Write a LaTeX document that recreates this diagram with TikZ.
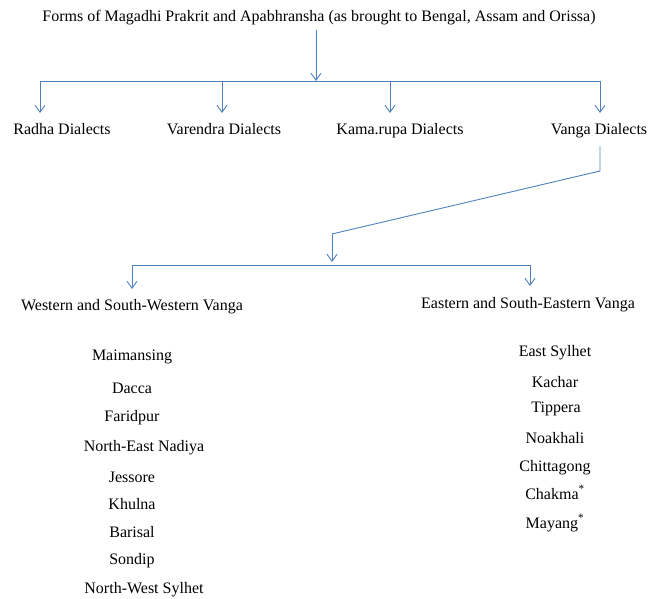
\documentclass[tikz,border=0pt]{standalone}
\usepackage{fontspec}
\setmainfont{Liberation Serif}
\usepackage{tikz}
\usetikzlibrary{arrows.meta,positioning}
\definecolor{linkblue}{RGB}{79,129,189}

\begin{document}
\begin{tikzpicture}[
                    x=1pt, y=-1pt,
                    >={Straight Barb[length=7pt,width=10pt,line width=0.9pt]},
                    every node/.append style={font=\fontsize{16}{19}\selectfont, inner sep=0pt},
                    dialect/.style={anchor=base, outer sep=0pt},
                    item/.style={anchor=base},
                    link/.style={draw=linkblue, line width=0.9pt}
                    ]
\useasboundingbox (0,0) rectangle (648,599);

\node[item] (forms) at (319,22) {Forms of Magadhi Prakrit and Apabhransha (as brought to Bengal, Assam and Orissa)};

\node[dialect] (radha)    at (62,135)  {Radha Dialects};
\node[dialect] (varendra) at (224,135) {Varendra Dialects};
\node[dialect] (kamarupa) at (400,135) {Kama.rupa Dialects};
\node[dialect] (vanga)    at (599,135) {Vanga Dialects};

\node[dialect] (west) at (132,310) {Western and South-Western Vanga};
\node[dialect] (east) at (528,308) {Eastern and South-Eastern Vanga};

\coordinate (split1) at (316,81);
\coordinate (b1) at (40,81);
\coordinate (b2) at (222,81);
\coordinate (b3) at (390,81);
\coordinate (b4) at (600,81);
\coordinate (vbend) at (600,171);
\coordinate (vmid) at (332,234);
\coordinate (split2) at (332,264);
\coordinate (c1) at (132,265);
\coordinate (c2) at (530,265);

\draw[link,->] (forms.south -| split1) ++(0,4) -- (split1);
\draw[link] (b1) -- (b4);
\draw[link,->] (b1) -- ++(0,32);
\draw[link,->] (b2) -- ++(0,32);
\draw[link,->] (b3) -- ++(0,32);
\draw[link,->] (b4) -- ++(0,32);

\draw[link] ([yshift=-8pt]vanga.south -| vbend) -- (vbend) -- (vmid);
\draw[link,->] (vmid) -- ([yshift=2pt]split2);
\draw[link] (c1) -- (c2);
\draw[link,->] (c1) -- ++(0,24);
\draw[link,->] (c2) -- ++(0,21);

\node[item] (maimansing) at (132,360) {Maimansing};
\node[item] (dacca)      at (132,393) {Dacca};
\node[item] (faridpur)   at (132,421) {Faridpur};
\node[item] (nenadiya)   at (144,451) {North-East Nadiya};
\node[item] (jessore)    at (132,482) {Jessore};
\node[item] (khulna)     at (132,509) {Khulna};
\node[item] (barisal)    at (132,537) {Barisal};
\node[item] (sondip)     at (132,564) {Sondip};
\node[item] (nwsylhet)   at (144,593) {North-West Sylhet};

\node[item] (esylhet)    at (555,356) {East Sylhet};
\node[item] (kachar)     at (555,387) {Kachar};
\node[item] (tippera)    at (556,412) {Tippera};
\node[item] (noakhali)   at (555,443) {Noakhali};
\node[item] (chittagong) at (555,471) {Chittagong};
\node[item] (chakma)     at (555,499) {Chakma\textsuperscript{*}};
\node[item] (mayang)     at (555,528) {Mayang\textsuperscript{*}};
\end{tikzpicture}
\end{document}
